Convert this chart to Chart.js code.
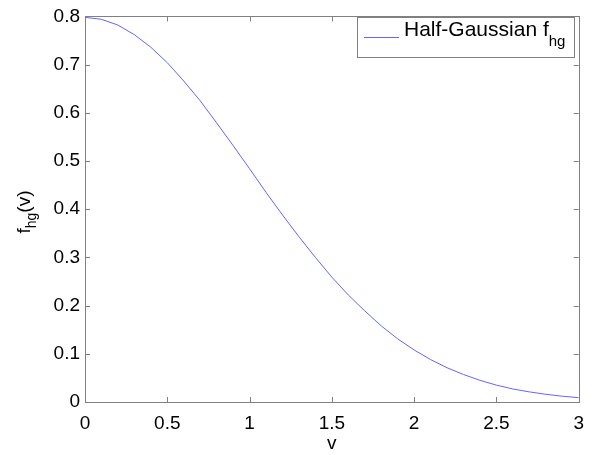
<!DOCTYPE html>
<html>
<head>
<meta charset="utf-8">
<script src="https://cdn.jsdelivr.net/npm/chart.js@4"></script>
<style>
  html, body { margin: 0; padding: 0; background: #fff; }
  #wrap { width: 594px; height: 455px; position: relative; }
</style>
</head>
<body>
<div id="wrap"><canvas id="c" width="594" height="455"></canvas></div>
<script>
// sample points of v
const vValues = [0, 0.1, 0.2, 0.3, 0.4, 0.5, 0.6, 0.7, 0.8, 0.9, 1.0, 1.1, 1.2, 1.3, 1.4, 1.5,
  1.6, 1.7, 1.8, 1.9, 2.0, 2.1, 2.2, 2.3, 2.4, 2.5, 2.6, 2.7, 2.8, 2.9, 3.0];
// f_hg(v)
const fhgValues = [0.798, 0.794, 0.782, 0.762, 0.736, 0.704, 0.666, 0.625, 0.579, 0.532, 0.484,
  0.435, 0.388, 0.343, 0.300, 0.259, 0.222, 0.189, 0.158, 0.131, 0.108, 0.088, 0.071, 0.057,
  0.045, 0.035, 0.027, 0.021, 0.016, 0.012, 0.009];
const xTicks = [0, 0.5, 1, 1.5, 2, 2.5, 3];
const yTicks = [0, 0.1, 0.2, 0.3, 0.4, 0.5, 0.6, 0.7, 0.8];

const FONT = '"Liberation Sans", Arial, sans-serif';
const AXIS_COLOR = '#808080';
const LINE_COLOR = 'rgb(100, 100, 255)';

// box, inward ticks, axis titles and legend (matlab look)
const matlabFrame = {
  id: 'matlabFrame',
  afterDraw(chart) {
    const { ctx, chartArea: a, scales } = chart;
    ctx.save();
    ctx.strokeStyle = AXIS_COLOR;
    ctx.lineWidth = 1;
    ctx.strokeRect(Math.round(a.left) + 0.5, Math.round(a.top) + 0.5,
      Math.round(a.right - a.left), Math.round(a.bottom - a.top));

    const tl = 5;
    ctx.beginPath();
    xTicks.forEach(t => {
      const x = Math.round(scales.x.getPixelForValue(t)) + 0.5;
      ctx.moveTo(x, a.bottom); ctx.lineTo(x, a.bottom - tl);
      ctx.moveTo(x, a.top); ctx.lineTo(x, a.top + tl);
    });
    yTicks.forEach(t => {
      const y = Math.round(scales.y.getPixelForValue(t)) + 0.5;
      ctx.moveTo(a.left, y); ctx.lineTo(a.left + tl, y);
      ctx.moveTo(a.right, y); ctx.lineTo(a.right - tl, y);
    });
    ctx.stroke();

    // x title
    ctx.fillStyle = '#000';
    ctx.font = '19px ' + FONT;
    ctx.textAlign = 'center';
    ctx.textBaseline = 'alphabetic';
    ctx.fillText('v', (a.left + a.right) / 2, 449);

    // y title: f_hg(v), rotated
    ctx.save();
    ctx.translate(30, 212);
    ctx.rotate(-Math.PI / 2);
    ctx.textAlign = 'left';
    ctx.font = '19px ' + FONT;
    const wF = ctx.measureText('f').width;
    ctx.font = '14px ' + FONT;
    const wSub = ctx.measureText('hg').width;
    ctx.font = '19px ' + FONT;
    const wV = ctx.measureText('(v)').width;
    let x0 = -(wF + wSub + wV) / 2;
    ctx.fillText('f', x0, 0);
    ctx.font = '14px ' + FONT;
    ctx.fillText('hg', x0 + wF, 6);
    ctx.font = '19px ' + FONT;
    ctx.fillText('(v)', x0 + wF + wSub, 0);
    ctx.restore();

    // legend
    const lx = 357.5, ly = 17.5, lw = 217, lh = 40;
    ctx.fillStyle = '#fff';
    ctx.fillRect(lx, ly, lw, lh);
    ctx.strokeStyle = AXIS_COLOR;
    ctx.strokeRect(lx, ly, lw, lh);
    ctx.strokeStyle = LINE_COLOR;
    ctx.beginPath();
    ctx.moveTo(364, 37.5); ctx.lineTo(399, 37.5);
    ctx.stroke();
    ctx.fillStyle = '#000';
    ctx.textAlign = 'left';
    ctx.font = '21px ' + FONT;
    const label = chart.data.datasets[0].label;
    ctx.fillText(label, 404, 36);
    const wl = ctx.measureText(label).width;
    ctx.font = '15px ' + FONT;
    ctx.fillText('hg', 404 + wl, 46);
    ctx.restore();
  }
};

new Chart(document.getElementById('c'), {
  type: 'line',
  data: {
    datasets: [{
      label: 'Half-Gaussian f',
      data: vValues.map((v, i) => ({ x: v, y: fhgValues[i] })),
      borderColor: LINE_COLOR,
      borderWidth: 1,
      pointRadius: 0,
      tension: 0,
      fill: false
    }]
  },
  options: {
    responsive: false,
    animation: false,
    layout: { padding: { left: 0, top: 12, right: 15, bottom: 0 } },
    plugins: { legend: { display: false }, tooltip: { enabled: false } },
    scales: {
      x: {
        type: 'linear', min: 0, max: 3,
        afterFit: s => { s.height = 53; },
        afterBuildTicks: s => { s.ticks = xTicks.map(v => ({ value: v })); },
        grid: { display: false, drawTicks: false },
        border: { display: false },
        ticks: {
          color: '#000', font: { family: FONT, size: 19 }, padding: 10, maxRotation: 0,
          callback: v => String(v)
        }
      },
      y: {
        type: 'linear', min: 0, max: 0.8,
        afterFit: s => { s.width = 85; },
        afterBuildTicks: s => { s.ticks = yTicks.map(v => ({ value: v })); },
        grid: { display: false, drawTicks: false },
        border: { display: false },
        ticks: {
          color: '#000', font: { family: FONT, size: 19 }, padding: 5,
          callback: v => String(v)
        }
      }
    }
  },
  plugins: [matlabFrame]
});
</script>
</body>
</html>
